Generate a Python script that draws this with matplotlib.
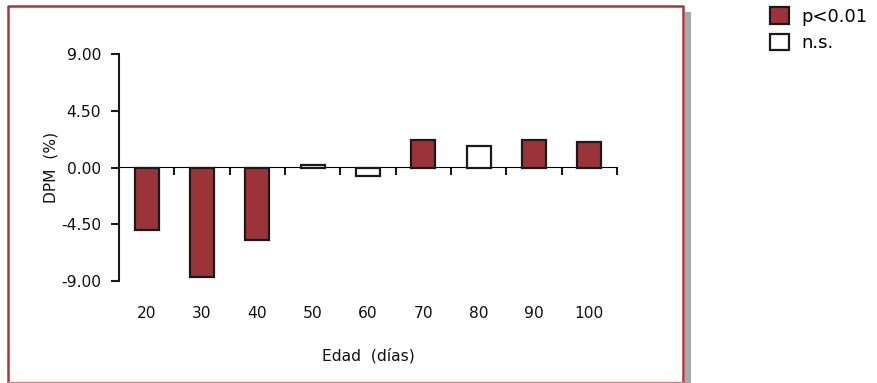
import matplotlib
matplotlib.use("Agg")
import matplotlib.pyplot as plt
from matplotlib.patches import Patch, Rectangle
from matplotlib.lines import Line2D

# ---- data ----
ages = ["20", "30", "40", "50", "60", "70", "80", "90", "100"]
dpm = [-4.95, -8.72, -5.78, 0.16, -0.64, 2.17, 1.74, 2.17, 2.0]
signif = ["p<0.01", "p<0.01", "p<0.01", "n.s.", "n.s.", "p<0.01", "n.s.", "p<0.01", "p<0.01"]
yticks = [-9.0, -4.5, 0.0, 4.5, 9.0]
legend_labels = ["p<0.01", "n.s."]

RED = "#9B3438"
fill = {"p<0.01": RED, "n.s.": "white"}
INK = "#1a1a1a"
TXT = "#111111"

plt.rcParams["font.family"] = ["DejaVu Sans"]
W, H = 877, 383
fig = plt.figure(figsize=(W / 100, H / 100), dpi=100)

ax = fig.add_axes([119 / W, 1 - 280.7 / H, (617 - 119) / W, (280.7 - 54.3) / H])
x = list(range(len(ages)))
ax.bar(x, dpm, width=0.43, color=[fill[s] for s in signif],
       edgecolor=INK, linewidth=1.6, zorder=3)

ax.set_xlim(-0.5, len(ages) - 0.5)
ax.set_ylim(-9, 9)
ax.set_yticks(yticks)
ax.set_yticklabels([f"{v:.2f}" for v in yticks], fontsize=11.2, color=TXT)
ax.tick_params(axis="y", direction="out", length=6, width=1.5, color=INK, pad=7)

ax.set_xticks(x)
ax.set_xticklabels(ages, fontsize=11.2, color=TXT)
ax.tick_params(axis="x", length=0, pad=18.5)

for s in ["top", "right", "bottom"]:
    ax.spines[s].set_visible(False)
ax.spines["left"].set_linewidth(1.5)
ax.spines["left"].set_color(INK)

# zero line with category separators
sec = ax.secondary_xaxis(0.5)
sec.set_xticks([i + 0.5 for i in x])
sec.set_xticklabels([])
sec.tick_params(direction="in", length=6, width=1.5, color=INK)
sec.spines["bottom"].set_linewidth(1.8)
sec.spines["bottom"].set_color(INK)

ax.set_ylabel("DPM  (%)", fontsize=11.2, labelpad=2, color=TXT)
ax.set_xlabel("Edad  (días)", fontsize=11.2, labelpad=19, color=TXT)

# outer frame and shadow
fig.patches.append(Rectangle((685 / W, 0), 6 / W, 1 - 12 / H, transform=fig.transFigure,
                             facecolor="#A8A8A8", edgecolor="none", zorder=0))
fig.lines.append(Line2D([8 / W, 8 / W, 683 / W, 683 / W], [0, 1 - 6 / H, 1 - 6 / H, 0],
                        transform=fig.transFigure, color="#A5383C", linewidth=1.8))
fig.lines.append(Line2D([8 / W, 683 / W], [1 - 381.5 / H, 1 - 381.5 / H],
                        transform=fig.transFigure, color="#C88486", linewidth=1.0))

handles = [Patch(facecolor=fill[l], edgecolor=INK, linewidth=1.6) for l in legend_labels]
fig.legend(handles, legend_labels, loc="upper left", bbox_to_anchor=(770 / W, 1 - 7 / H),
           frameon=False, fontsize=13, borderpad=0, handlelength=1.05, handleheight=1.05,
           handletextpad=0.7, labelspacing=0.45, borderaxespad=0)

fig.savefig("out.png", dpi=100)
